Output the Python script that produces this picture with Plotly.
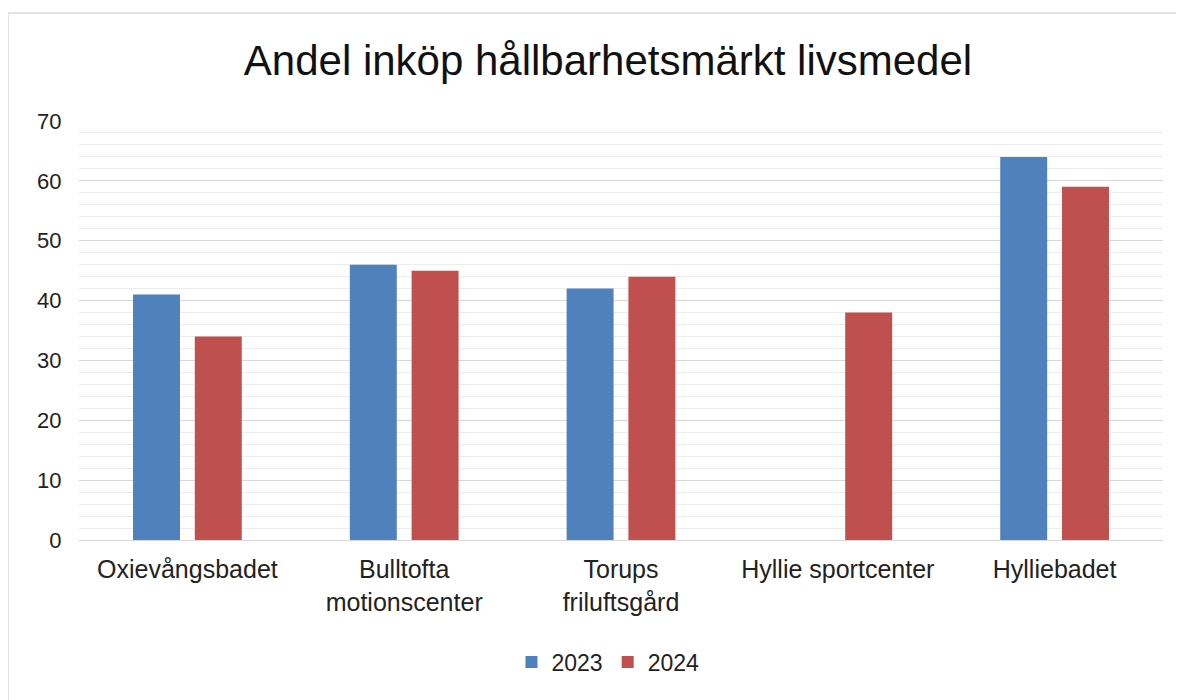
import plotly.graph_objects as go

categories = ["Oxievångsbadet", "Bulltofta<br>motionscenter", "Torups<br>friluftsgård",
              "Hyllie sportcenter", "Hylliebadet"]
values_2023 = [41, 46, 42, None, 64]
values_2024 = [34, 45, 44, 38, 59]
series_names = ["2023", "2024"]
title_text = "Andel inköp hållbarhetsmärkt livsmedel"

FONT = "Liberation Sans, Arial, sans-serif"
OFF = 8  # page body margin
W, H = 1184 - OFF, 700 - OFF
L, R, T, B = 79 - OFF, 21, 121 - OFF, 160
pw, ph = W - L - R, H - T - B

fig = go.Figure()
fig.add_trace(go.Bar(x=categories, y=values_2023, name=series_names[0],
                     marker=dict(color="#4F81BD", line=dict(width=0))))
fig.add_trace(go.Bar(x=categories, y=values_2024, name=series_names[1],
                     marker=dict(color="#C0504D", line=dict(width=0))))

fig.update_layout(
    width=W, height=H,
    margin=dict(l=L, r=R, t=T, b=B),
    paper_bgcolor="white", plot_bgcolor="white",
    barmode="group", bargap=0.43, bargroupgap=0.24,
    font=dict(family=FONT, color="#222222"),
    title=dict(text=title_text, x=(608 - OFF) / W, xanchor="center", y=1 - (60 - OFF) / H,
               yanchor="middle", font=dict(size=42, color="#111111", family=FONT)),
    legend=dict(orientation="h", x=(608 - OFF - L) / pw, xanchor="center",
                y=(H - B - (662 - OFF)) / ph, yanchor="middle",
                font=dict(size=23, color="#222222"), itemwidth=30,
                traceorder="normal"),
    showlegend=True,
)
fig.update_yaxes(range=[0, 70], dtick=10, showgrid=True, gridcolor="#d9d9d9", gridwidth=1.3,
                 zeroline=False, showline=False,
                 ticks="outside", ticklen=12, tickcolor="rgba(0,0,0,0)",
                 tickfont=dict(size=22, color="#222222"),
                 minor=dict(dtick=2, showgrid=True, gridcolor="#ececec", gridwidth=1))
fig.update_xaxes(showline=True, linecolor="#d9d9d9", linewidth=1.3,
                 ticks="outside", ticklen=7, tickcolor="rgba(0,0,0,0)",
                 tickfont=dict(size=25, color="#222222"))

# outer chart border (cropped at right/bottom)
fig.add_shape(type="rect", xref="paper", yref="paper",
              x0=(8 - 79) / pw, x1=1.1, y0=-0.6, y1=(540 - 13) / ph,
              line=dict(color="#d9d9d9", width=1.5), fillcolor="rgba(0,0,0,0)", layer="below")

fig.write_html("out.html")
